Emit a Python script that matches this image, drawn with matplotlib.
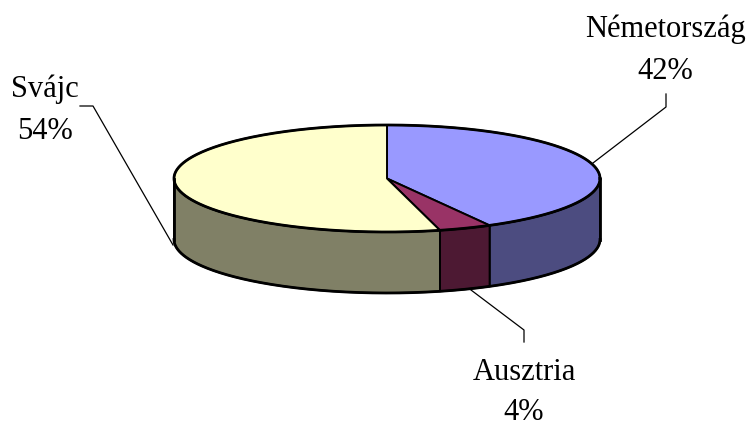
import numpy as np
import matplotlib
matplotlib.use("Agg")
import matplotlib.pyplot as plt
from matplotlib.patches import Polygon

# ---- data ----
labels = ["Németország", "Ausztria", "Svájc"]
values = [42, 4, 54]
pct_labels = ["42%", "4%", "54%"]
top_colors = ["#9999FF", "#993366", "#FFFFCC"]
side_colors = ["#4C4C80", "#4D1933", "#808066"]

# ---- geometry (pixel space) ----
W, H = 756, 428
cx, cy = 387, 178.5
a, b = 213, 53.5
depth = 61
start = 90.0

fig = plt.figure(figsize=(W / 100, H / 100), dpi=100)
ax = fig.add_axes([0, 0, 1, 1])
ax.set_xlim(0, W)
ax.set_ylim(H, 0)
ax.axis("off")

def pt(theta_deg, dz=0.0):
    t = np.radians(theta_deg)
    return cx + a * np.cos(t), cy - b * np.sin(t) + dz

total = float(sum(values))
bounds = []
ang = start
for v in values:
    span = 360.0 * v / total
    bounds.append((ang - span, ang))
    ang -= span

# side walls (front half only: angles in [-180, 0] mod 360)
for (t0, t1), col in zip(bounds, side_colors):
    for shift in (0, -360, 360):
        lo = max(t0 + shift, -180)
        hi = min(t1 + shift, 0)
        if hi > lo:
            th = np.linspace(lo, hi, 120)
            xs, ys = pt(th)
            xb, yb = pt(th[::-1], depth)
            poly = np.column_stack([np.concatenate([xs, xb]), np.concatenate([ys, yb])])
            ax.add_patch(Polygon(poly, closed=True, facecolor=col, edgecolor="black",
                                 linewidth=1.4, joinstyle="round"))

# top faces
for (t0, t1), col in zip(bounds, top_colors):
    th = np.linspace(t1, t0, 300)
    xs, ys = pt(th)
    poly = np.column_stack([np.concatenate([[cx], xs]), np.concatenate([[cy], ys])])
    ax.add_patch(Polygon(poly, closed=True, facecolor=col, edgecolor="black",
                         linewidth=1.4, joinstyle="round"))

# outer outline emphasis
th = np.linspace(0, 360, 600)
xs, ys = pt(th)
ax.plot(xs, ys, color="black", lw=2.0, zorder=5)
thf = np.linspace(-180, 0, 300)
xs, ys = pt(thf, depth)
ax.plot(xs, ys, color="black", lw=2.0, zorder=5)
for t in (-180, 0):
    x0, y0 = pt(t)
    ax.plot([x0, x0], [y0, y0 + depth], color="black", lw=2.0, zorder=5)

# ---- labels and leader lines ----
label_pos = {"Németország": (665, 37, 79), "Ausztria": (524, 380, 420), "Svájc": (45, 97, 139)}
leaders = {
    "Németország": [(593, 163), (666, 107), (666, 94)],
    "Ausztria": [(471, 290), (524, 330), (524, 342)],
    "Svájc": [(173, 245), (93, 106), (80, 106)],
}
font = ["Liberation Serif", "DejaVu Serif"]
for lab, pl in zip(labels, pct_labels):
    x, y1, y2 = label_pos[lab]
    ax.text(x, y1, lab, ha="center", va="baseline", fontsize=22, family=font, color="black")
    ax.text(x, y2, pl, ha="center", va="baseline", fontsize=22, family=font, color="black")
    pts = np.array(leaders[lab])
    ax.plot(pts[:, 0], pts[:, 1], color="black", lw=0.9, zorder=1)

fig.savefig("out.png", dpi=100, facecolor="white")
